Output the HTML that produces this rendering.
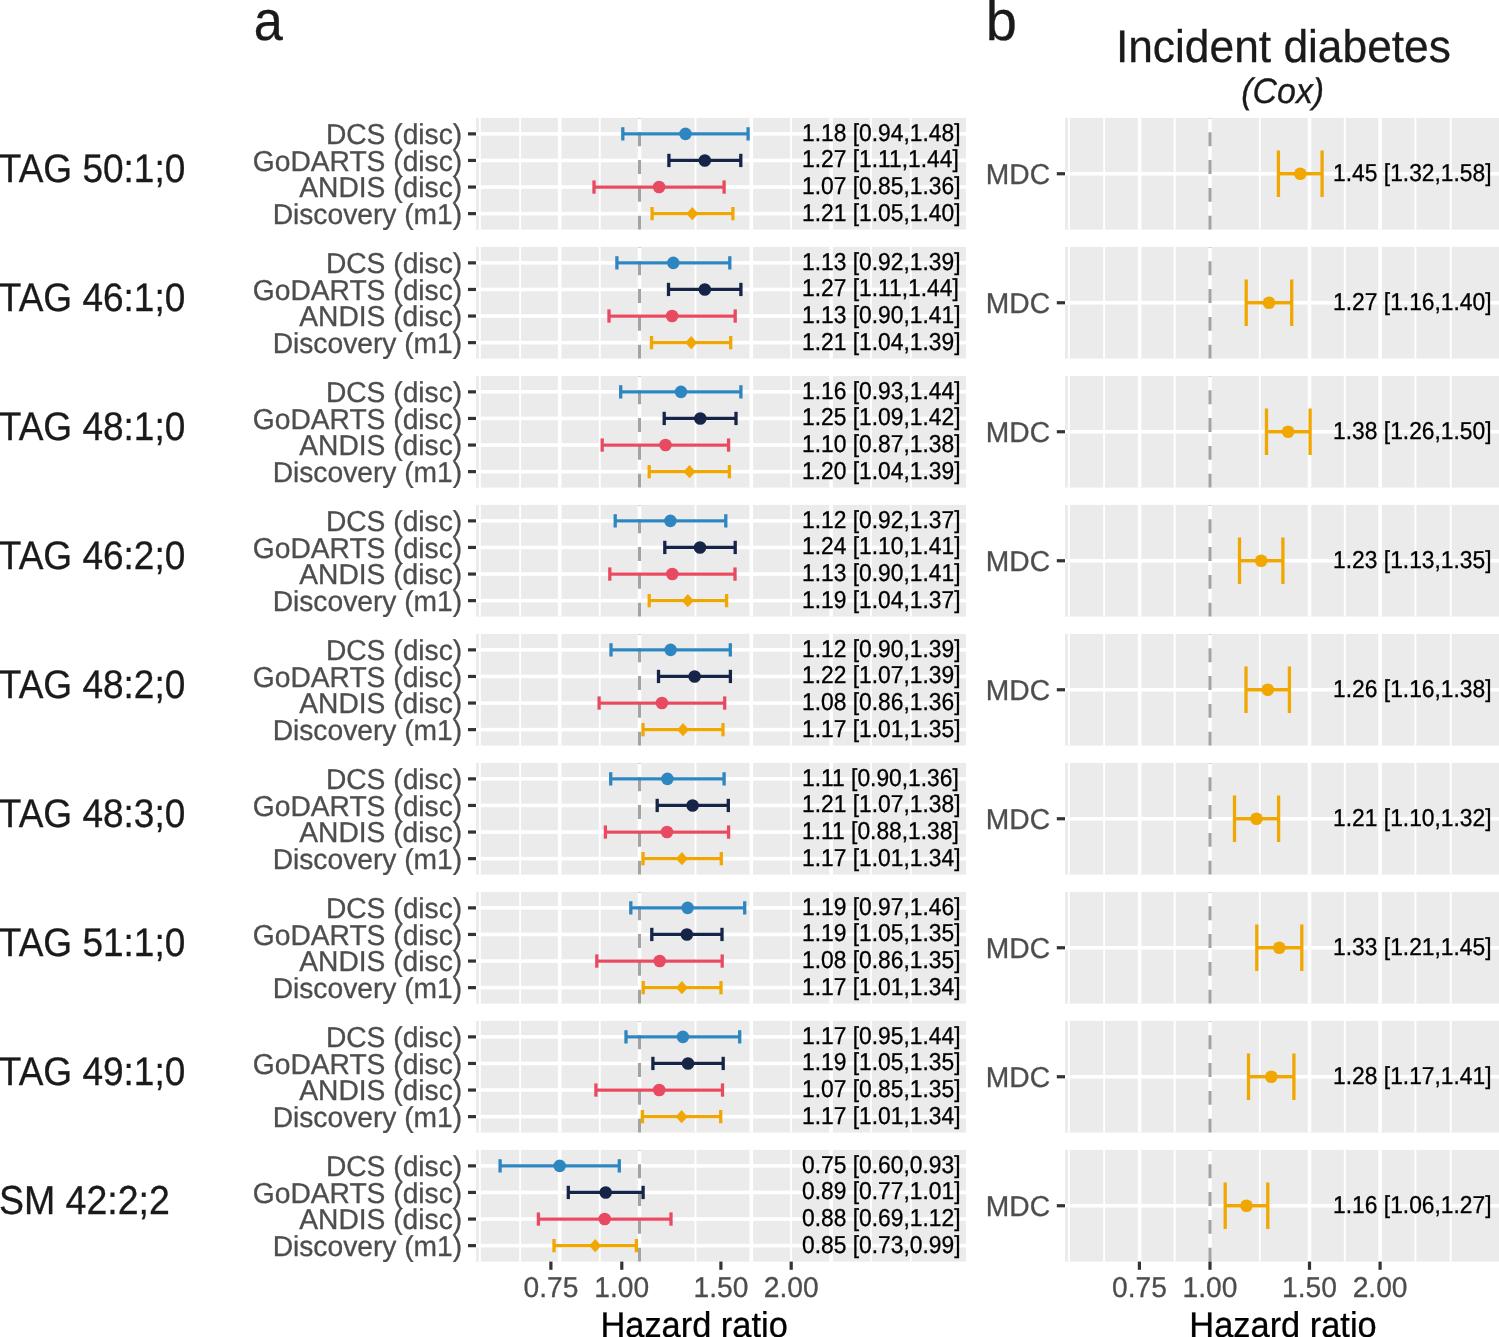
<!DOCTYPE html>
<html><head><meta charset="utf-8"><title>Forest plot</title>
<style>html,body{margin:0;padding:0;background:#fff;} body{width:1499px;height:1337px;overflow:hidden;} svg text{font-family:"Liberation Sans", sans-serif;text-rendering:geometricPrecision;} #wrap{will-change:transform;}</style>
</head><body><div id="wrap">
<svg width="1499" height="1337" viewBox="0 0 1499 1337" style="display:block">
<rect width="1499" height="1337" fill="#FFFFFF"/>
<rect x="476.0" y="117.90" width="490.0" height="111.7" fill="#EBEBEB"/>
<rect x="478.95" y="117.90" width="1.9" height="111.7" fill="#FFFFFF"/>
<rect x="519.15" y="117.90" width="1.9" height="111.7" fill="#FFFFFF"/>
<rect x="598.85" y="117.90" width="1.9" height="111.7" fill="#FFFFFF"/>
<rect x="694.55" y="117.90" width="1.9" height="111.7" fill="#FFFFFF"/>
<rect x="790.15" y="117.90" width="1.9" height="111.7" fill="#FFFFFF"/>
<rect x="869.95" y="117.90" width="1.9" height="111.7" fill="#FFFFFF"/>
<rect x="909.85" y="117.90" width="1.9" height="111.7" fill="#FFFFFF"/>
<rect x="557.90" y="117.90" width="3.6" height="111.7" fill="#FFFFFF"/>
<rect x="637.70" y="117.90" width="3.6" height="111.7" fill="#FFFFFF"/>
<rect x="749.50" y="117.90" width="3.6" height="111.7" fill="#FFFFFF"/>
<rect x="829.30" y="117.90" width="3.6" height="111.7" fill="#FFFFFF"/>
<rect x="476.0" y="132.06" width="490.0" height="3.6" fill="#FFFFFF"/>
<rect x="476.0" y="158.65" width="490.0" height="3.6" fill="#FFFFFF"/>
<rect x="476.0" y="185.25" width="490.0" height="3.6" fill="#FFFFFF"/>
<rect x="476.0" y="211.84" width="490.0" height="3.6" fill="#FFFFFF"/>
<line x1="639.5" y1="229.60" x2="639.5" y2="117.90" stroke="#A3A3A3" stroke-width="3.1" stroke-dasharray="13.9 13.9"/>
<rect x="1065.0" y="117.90" width="435.0" height="111.7" fill="#EBEBEB"/>
<rect x="1067.95" y="117.90" width="1.9" height="111.7" fill="#FFFFFF"/>
<rect x="1103.15" y="117.90" width="1.9" height="111.7" fill="#FFFFFF"/>
<rect x="1173.75" y="117.90" width="1.9" height="111.7" fill="#FFFFFF"/>
<rect x="1258.85" y="117.90" width="1.9" height="111.7" fill="#FFFFFF"/>
<rect x="1343.85" y="117.90" width="1.9" height="111.7" fill="#FFFFFF"/>
<rect x="1414.45" y="117.90" width="1.9" height="111.7" fill="#FFFFFF"/>
<rect x="1449.75" y="117.90" width="1.9" height="111.7" fill="#FFFFFF"/>
<rect x="1137.80" y="117.90" width="3.6" height="111.7" fill="#FFFFFF"/>
<rect x="1208.20" y="117.90" width="3.6" height="111.7" fill="#FFFFFF"/>
<rect x="1307.70" y="117.90" width="3.6" height="111.7" fill="#FFFFFF"/>
<rect x="1378.30" y="117.90" width="3.6" height="111.7" fill="#FFFFFF"/>
<rect x="1065.0" y="171.95" width="435.0" height="3.6" fill="#FFFFFF"/>
<line x1="1210.0" y1="229.60" x2="1210.0" y2="117.90" stroke="#A3A3A3" stroke-width="3.1" stroke-dasharray="13.9 13.9"/>
<line x1="622.80" y1="133.86" x2="748.10" y2="133.86" stroke="#2E86C1" stroke-width="3.3"/>
<line x1="622.80" y1="127.21" x2="622.80" y2="140.51" stroke="#2E86C1" stroke-width="3.3"/>
<line x1="748.10" y1="127.21" x2="748.10" y2="140.51" stroke="#2E86C1" stroke-width="3.3"/>
<circle cx="685.50" cy="133.86" r="6.3" fill="#2E86C1"/>
<text transform="translate(802.06,140.76) scale(1.0,1.076)" font-size="22.8" fill="#000" stroke="#000" stroke-width="0.3">1.18 [0.94,1.48]</text>
<text transform="translate(462.15,144.26) scale(1.0,1.02)" font-size="28.2" fill="#4D4D4D" stroke="#4D4D4D" stroke-width="0.3" text-anchor="end">DCS (disc)</text>
<line x1="468.0" y1="133.86" x2="476.0" y2="133.86" stroke="#333333" stroke-width="3.2"/>
<line x1="668.90" y1="160.45" x2="740.80" y2="160.45" stroke="#162448" stroke-width="3.3"/>
<line x1="668.90" y1="153.80" x2="668.90" y2="167.10" stroke="#162448" stroke-width="3.3"/>
<line x1="740.80" y1="153.80" x2="740.80" y2="167.10" stroke="#162448" stroke-width="3.3"/>
<circle cx="704.80" cy="160.45" r="6.3" fill="#162448"/>
<text transform="translate(802.06,167.35) scale(1.0,1.076)" font-size="22.8" fill="#000" stroke="#000" stroke-width="0.3">1.27 [1.11,1.44]</text>
<text transform="translate(462.15,170.85) scale(1.0,1.02)" font-size="28.2" fill="#4D4D4D" stroke="#4D4D4D" stroke-width="0.3" text-anchor="end">GoDARTS (disc)</text>
<line x1="468.0" y1="160.45" x2="476.0" y2="160.45" stroke="#333333" stroke-width="3.2"/>
<line x1="594.00" y1="187.05" x2="724.10" y2="187.05" stroke="#E84B61" stroke-width="3.3"/>
<line x1="594.00" y1="180.40" x2="594.00" y2="193.70" stroke="#E84B61" stroke-width="3.3"/>
<line x1="724.10" y1="180.40" x2="724.10" y2="193.70" stroke="#E84B61" stroke-width="3.3"/>
<circle cx="659.10" cy="187.05" r="6.3" fill="#E84B61"/>
<text transform="translate(802.06,193.95) scale(1.0,1.076)" font-size="22.8" fill="#000" stroke="#000" stroke-width="0.3">1.07 [0.85,1.36]</text>
<text transform="translate(462.15,197.45) scale(1.0,1.02)" font-size="28.2" fill="#4D4D4D" stroke="#4D4D4D" stroke-width="0.3" text-anchor="end">ANDIS (disc)</text>
<line x1="468.0" y1="187.05" x2="476.0" y2="187.05" stroke="#333333" stroke-width="3.2"/>
<line x1="652.10" y1="213.64" x2="732.90" y2="213.64" stroke="#F1A702" stroke-width="3.3"/>
<line x1="652.10" y1="206.99" x2="652.10" y2="220.29" stroke="#F1A702" stroke-width="3.3"/>
<line x1="732.90" y1="206.99" x2="732.90" y2="220.29" stroke="#F1A702" stroke-width="3.3"/>
<path d="M692.30 207.04L698.30 213.64L692.30 220.24L686.30 213.64Z" fill="#F1A702"/>
<text transform="translate(802.06,220.54) scale(1.0,1.076)" font-size="22.8" fill="#000" stroke="#000" stroke-width="0.3">1.21 [1.05,1.40]</text>
<text transform="translate(462.15,224.04) scale(1.0,1.02)" font-size="28.2" fill="#4D4D4D" stroke="#4D4D4D" stroke-width="0.3" text-anchor="end">Discovery (m1)</text>
<line x1="468.0" y1="213.64" x2="476.0" y2="213.64" stroke="#333333" stroke-width="3.2"/>
<line x1="1278.40" y1="173.75" x2="1322.10" y2="173.75" stroke="#F1A702" stroke-width="3.3"/>
<line x1="1278.40" y1="150.48" x2="1278.40" y2="197.02" stroke="#F1A702" stroke-width="3.3"/>
<line x1="1322.10" y1="150.48" x2="1322.10" y2="197.02" stroke="#F1A702" stroke-width="3.3"/>
<circle cx="1300.30" cy="173.75" r="6.3" fill="#F1A702"/>
<text transform="translate(1333.10,180.65) scale(1.0,1.076)" font-size="22.8" fill="#000" stroke="#000" stroke-width="0.3">1.45 [1.32,1.58]</text>
<text transform="translate(1050.00,184.15) scale(1.0,1.02)" font-size="28.2" fill="#4D4D4D" stroke="#4D4D4D" stroke-width="0.3" text-anchor="end">MDC</text>
<line x1="1056.8" y1="173.75" x2="1065.0" y2="173.75" stroke="#333333" stroke-width="3.2"/>
<text transform="translate(-1.20,181.50) scale(1.0,1.078)" font-size="37.0" fill="#1A1A1A" stroke="#1A1A1A" stroke-width="0.3">TAG 50:1;0</text>
<rect x="476.0" y="246.90" width="490.0" height="111.7" fill="#EBEBEB"/>
<rect x="478.95" y="246.90" width="1.9" height="111.7" fill="#FFFFFF"/>
<rect x="519.15" y="246.90" width="1.9" height="111.7" fill="#FFFFFF"/>
<rect x="598.85" y="246.90" width="1.9" height="111.7" fill="#FFFFFF"/>
<rect x="694.55" y="246.90" width="1.9" height="111.7" fill="#FFFFFF"/>
<rect x="790.15" y="246.90" width="1.9" height="111.7" fill="#FFFFFF"/>
<rect x="869.95" y="246.90" width="1.9" height="111.7" fill="#FFFFFF"/>
<rect x="909.85" y="246.90" width="1.9" height="111.7" fill="#FFFFFF"/>
<rect x="557.90" y="246.90" width="3.6" height="111.7" fill="#FFFFFF"/>
<rect x="637.70" y="246.90" width="3.6" height="111.7" fill="#FFFFFF"/>
<rect x="749.50" y="246.90" width="3.6" height="111.7" fill="#FFFFFF"/>
<rect x="829.30" y="246.90" width="3.6" height="111.7" fill="#FFFFFF"/>
<rect x="476.0" y="261.06" width="490.0" height="3.6" fill="#FFFFFF"/>
<rect x="476.0" y="287.65" width="490.0" height="3.6" fill="#FFFFFF"/>
<rect x="476.0" y="314.25" width="490.0" height="3.6" fill="#FFFFFF"/>
<rect x="476.0" y="340.84" width="490.0" height="3.6" fill="#FFFFFF"/>
<line x1="639.5" y1="358.60" x2="639.5" y2="246.90" stroke="#A3A3A3" stroke-width="3.1" stroke-dasharray="13.9 13.9"/>
<rect x="1065.0" y="246.90" width="435.0" height="111.7" fill="#EBEBEB"/>
<rect x="1067.95" y="246.90" width="1.9" height="111.7" fill="#FFFFFF"/>
<rect x="1103.15" y="246.90" width="1.9" height="111.7" fill="#FFFFFF"/>
<rect x="1173.75" y="246.90" width="1.9" height="111.7" fill="#FFFFFF"/>
<rect x="1258.85" y="246.90" width="1.9" height="111.7" fill="#FFFFFF"/>
<rect x="1343.85" y="246.90" width="1.9" height="111.7" fill="#FFFFFF"/>
<rect x="1414.45" y="246.90" width="1.9" height="111.7" fill="#FFFFFF"/>
<rect x="1449.75" y="246.90" width="1.9" height="111.7" fill="#FFFFFF"/>
<rect x="1137.80" y="246.90" width="3.6" height="111.7" fill="#FFFFFF"/>
<rect x="1208.20" y="246.90" width="3.6" height="111.7" fill="#FFFFFF"/>
<rect x="1307.70" y="246.90" width="3.6" height="111.7" fill="#FFFFFF"/>
<rect x="1378.30" y="246.90" width="3.6" height="111.7" fill="#FFFFFF"/>
<rect x="1065.0" y="300.95" width="435.0" height="3.6" fill="#FFFFFF"/>
<line x1="1210.0" y1="358.60" x2="1210.0" y2="246.90" stroke="#A3A3A3" stroke-width="3.1" stroke-dasharray="13.9 13.9"/>
<line x1="616.90" y1="262.86" x2="729.80" y2="262.86" stroke="#2E86C1" stroke-width="3.3"/>
<line x1="616.90" y1="256.21" x2="616.90" y2="269.51" stroke="#2E86C1" stroke-width="3.3"/>
<line x1="729.80" y1="256.21" x2="729.80" y2="269.51" stroke="#2E86C1" stroke-width="3.3"/>
<circle cx="673.30" cy="262.86" r="6.3" fill="#2E86C1"/>
<text transform="translate(802.06,269.76) scale(1.0,1.076)" font-size="22.8" fill="#000" stroke="#000" stroke-width="0.3">1.13 [0.92,1.39]</text>
<text transform="translate(462.15,273.26) scale(1.0,1.02)" font-size="28.2" fill="#4D4D4D" stroke="#4D4D4D" stroke-width="0.3" text-anchor="end">DCS (disc)</text>
<line x1="468.0" y1="262.86" x2="476.0" y2="262.86" stroke="#333333" stroke-width="3.2"/>
<line x1="668.50" y1="289.45" x2="740.90" y2="289.45" stroke="#162448" stroke-width="3.3"/>
<line x1="668.50" y1="282.80" x2="668.50" y2="296.10" stroke="#162448" stroke-width="3.3"/>
<line x1="740.90" y1="282.80" x2="740.90" y2="296.10" stroke="#162448" stroke-width="3.3"/>
<circle cx="704.80" cy="289.45" r="6.3" fill="#162448"/>
<text transform="translate(802.06,296.35) scale(1.0,1.076)" font-size="22.8" fill="#000" stroke="#000" stroke-width="0.3">1.27 [1.11,1.44]</text>
<text transform="translate(462.15,299.85) scale(1.0,1.02)" font-size="28.2" fill="#4D4D4D" stroke="#4D4D4D" stroke-width="0.3" text-anchor="end">GoDARTS (disc)</text>
<line x1="468.0" y1="289.45" x2="476.0" y2="289.45" stroke="#333333" stroke-width="3.2"/>
<line x1="609.00" y1="316.05" x2="735.20" y2="316.05" stroke="#E84B61" stroke-width="3.3"/>
<line x1="609.00" y1="309.40" x2="609.00" y2="322.70" stroke="#E84B61" stroke-width="3.3"/>
<line x1="735.20" y1="309.40" x2="735.20" y2="322.70" stroke="#E84B61" stroke-width="3.3"/>
<circle cx="672.10" cy="316.05" r="6.3" fill="#E84B61"/>
<text transform="translate(802.06,322.95) scale(1.0,1.076)" font-size="22.8" fill="#000" stroke="#000" stroke-width="0.3">1.13 [0.90,1.41]</text>
<text transform="translate(462.15,326.45) scale(1.0,1.02)" font-size="28.2" fill="#4D4D4D" stroke="#4D4D4D" stroke-width="0.3" text-anchor="end">ANDIS (disc)</text>
<line x1="468.0" y1="316.05" x2="476.0" y2="316.05" stroke="#333333" stroke-width="3.2"/>
<line x1="651.50" y1="342.64" x2="730.70" y2="342.64" stroke="#F1A702" stroke-width="3.3"/>
<line x1="651.50" y1="335.99" x2="651.50" y2="349.29" stroke="#F1A702" stroke-width="3.3"/>
<line x1="730.70" y1="335.99" x2="730.70" y2="349.29" stroke="#F1A702" stroke-width="3.3"/>
<path d="M691.20 336.04L697.20 342.64L691.20 349.24L685.20 342.64Z" fill="#F1A702"/>
<text transform="translate(802.06,349.54) scale(1.0,1.076)" font-size="22.8" fill="#000" stroke="#000" stroke-width="0.3">1.21 [1.04,1.39]</text>
<text transform="translate(462.15,353.04) scale(1.0,1.02)" font-size="28.2" fill="#4D4D4D" stroke="#4D4D4D" stroke-width="0.3" text-anchor="end">Discovery (m1)</text>
<line x1="468.0" y1="342.64" x2="476.0" y2="342.64" stroke="#333333" stroke-width="3.2"/>
<line x1="1246.20" y1="302.75" x2="1291.70" y2="302.75" stroke="#F1A702" stroke-width="3.3"/>
<line x1="1246.20" y1="279.48" x2="1246.20" y2="326.02" stroke="#F1A702" stroke-width="3.3"/>
<line x1="1291.70" y1="279.48" x2="1291.70" y2="326.02" stroke="#F1A702" stroke-width="3.3"/>
<circle cx="1269.00" cy="302.75" r="6.3" fill="#F1A702"/>
<text transform="translate(1333.10,309.65) scale(1.0,1.076)" font-size="22.8" fill="#000" stroke="#000" stroke-width="0.3">1.27 [1.16,1.40]</text>
<text transform="translate(1050.00,313.15) scale(1.0,1.02)" font-size="28.2" fill="#4D4D4D" stroke="#4D4D4D" stroke-width="0.3" text-anchor="end">MDC</text>
<line x1="1056.8" y1="302.75" x2="1065.0" y2="302.75" stroke="#333333" stroke-width="3.2"/>
<text transform="translate(-1.20,310.50) scale(1.0,1.078)" font-size="37.0" fill="#1A1A1A" stroke="#1A1A1A" stroke-width="0.3">TAG 46:1;0</text>
<rect x="476.0" y="375.90" width="490.0" height="111.7" fill="#EBEBEB"/>
<rect x="478.95" y="375.90" width="1.9" height="111.7" fill="#FFFFFF"/>
<rect x="519.15" y="375.90" width="1.9" height="111.7" fill="#FFFFFF"/>
<rect x="598.85" y="375.90" width="1.9" height="111.7" fill="#FFFFFF"/>
<rect x="694.55" y="375.90" width="1.9" height="111.7" fill="#FFFFFF"/>
<rect x="790.15" y="375.90" width="1.9" height="111.7" fill="#FFFFFF"/>
<rect x="869.95" y="375.90" width="1.9" height="111.7" fill="#FFFFFF"/>
<rect x="909.85" y="375.90" width="1.9" height="111.7" fill="#FFFFFF"/>
<rect x="557.90" y="375.90" width="3.6" height="111.7" fill="#FFFFFF"/>
<rect x="637.70" y="375.90" width="3.6" height="111.7" fill="#FFFFFF"/>
<rect x="749.50" y="375.90" width="3.6" height="111.7" fill="#FFFFFF"/>
<rect x="829.30" y="375.90" width="3.6" height="111.7" fill="#FFFFFF"/>
<rect x="476.0" y="390.06" width="490.0" height="3.6" fill="#FFFFFF"/>
<rect x="476.0" y="416.65" width="490.0" height="3.6" fill="#FFFFFF"/>
<rect x="476.0" y="443.25" width="490.0" height="3.6" fill="#FFFFFF"/>
<rect x="476.0" y="469.84" width="490.0" height="3.6" fill="#FFFFFF"/>
<line x1="639.5" y1="487.60" x2="639.5" y2="375.90" stroke="#A3A3A3" stroke-width="3.1" stroke-dasharray="13.9 13.9"/>
<rect x="1065.0" y="375.90" width="435.0" height="111.7" fill="#EBEBEB"/>
<rect x="1067.95" y="375.90" width="1.9" height="111.7" fill="#FFFFFF"/>
<rect x="1103.15" y="375.90" width="1.9" height="111.7" fill="#FFFFFF"/>
<rect x="1173.75" y="375.90" width="1.9" height="111.7" fill="#FFFFFF"/>
<rect x="1258.85" y="375.90" width="1.9" height="111.7" fill="#FFFFFF"/>
<rect x="1343.85" y="375.90" width="1.9" height="111.7" fill="#FFFFFF"/>
<rect x="1414.45" y="375.90" width="1.9" height="111.7" fill="#FFFFFF"/>
<rect x="1449.75" y="375.90" width="1.9" height="111.7" fill="#FFFFFF"/>
<rect x="1137.80" y="375.90" width="3.6" height="111.7" fill="#FFFFFF"/>
<rect x="1208.20" y="375.90" width="3.6" height="111.7" fill="#FFFFFF"/>
<rect x="1307.70" y="375.90" width="3.6" height="111.7" fill="#FFFFFF"/>
<rect x="1378.30" y="375.90" width="3.6" height="111.7" fill="#FFFFFF"/>
<rect x="1065.0" y="429.95" width="435.0" height="3.6" fill="#FFFFFF"/>
<line x1="1210.0" y1="487.60" x2="1210.0" y2="375.90" stroke="#A3A3A3" stroke-width="3.1" stroke-dasharray="13.9 13.9"/>
<line x1="620.70" y1="391.86" x2="740.90" y2="391.86" stroke="#2E86C1" stroke-width="3.3"/>
<line x1="620.70" y1="385.21" x2="620.70" y2="398.51" stroke="#2E86C1" stroke-width="3.3"/>
<line x1="740.90" y1="385.21" x2="740.90" y2="398.51" stroke="#2E86C1" stroke-width="3.3"/>
<circle cx="681.00" cy="391.86" r="6.3" fill="#2E86C1"/>
<text transform="translate(802.06,398.76) scale(1.0,1.076)" font-size="22.8" fill="#000" stroke="#000" stroke-width="0.3">1.16 [0.93,1.44]</text>
<text transform="translate(462.15,402.26) scale(1.0,1.02)" font-size="28.2" fill="#4D4D4D" stroke="#4D4D4D" stroke-width="0.3" text-anchor="end">DCS (disc)</text>
<line x1="468.0" y1="391.86" x2="476.0" y2="391.86" stroke="#333333" stroke-width="3.2"/>
<line x1="664.20" y1="418.45" x2="736.00" y2="418.45" stroke="#162448" stroke-width="3.3"/>
<line x1="664.20" y1="411.80" x2="664.20" y2="425.10" stroke="#162448" stroke-width="3.3"/>
<line x1="736.00" y1="411.80" x2="736.00" y2="425.10" stroke="#162448" stroke-width="3.3"/>
<circle cx="700.30" cy="418.45" r="6.3" fill="#162448"/>
<text transform="translate(802.06,425.35) scale(1.0,1.076)" font-size="22.8" fill="#000" stroke="#000" stroke-width="0.3">1.25 [1.09,1.42]</text>
<text transform="translate(462.15,428.85) scale(1.0,1.02)" font-size="28.2" fill="#4D4D4D" stroke="#4D4D4D" stroke-width="0.3" text-anchor="end">GoDARTS (disc)</text>
<line x1="468.0" y1="418.45" x2="476.0" y2="418.45" stroke="#333333" stroke-width="3.2"/>
<line x1="602.20" y1="445.05" x2="728.60" y2="445.05" stroke="#E84B61" stroke-width="3.3"/>
<line x1="602.20" y1="438.40" x2="602.20" y2="451.70" stroke="#E84B61" stroke-width="3.3"/>
<line x1="728.60" y1="438.40" x2="728.60" y2="451.70" stroke="#E84B61" stroke-width="3.3"/>
<circle cx="665.50" cy="445.05" r="6.3" fill="#E84B61"/>
<text transform="translate(802.06,451.95) scale(1.0,1.076)" font-size="22.8" fill="#000" stroke="#000" stroke-width="0.3">1.10 [0.87,1.38]</text>
<text transform="translate(462.15,455.45) scale(1.0,1.02)" font-size="28.2" fill="#4D4D4D" stroke="#4D4D4D" stroke-width="0.3" text-anchor="end">ANDIS (disc)</text>
<line x1="468.0" y1="445.05" x2="476.0" y2="445.05" stroke="#333333" stroke-width="3.2"/>
<line x1="649.20" y1="471.64" x2="729.40" y2="471.64" stroke="#F1A702" stroke-width="3.3"/>
<line x1="649.20" y1="464.99" x2="649.20" y2="478.29" stroke="#F1A702" stroke-width="3.3"/>
<line x1="729.40" y1="464.99" x2="729.40" y2="478.29" stroke="#F1A702" stroke-width="3.3"/>
<path d="M689.50 465.04L695.50 471.64L689.50 478.24L683.50 471.64Z" fill="#F1A702"/>
<text transform="translate(802.06,478.54) scale(1.0,1.076)" font-size="22.8" fill="#000" stroke="#000" stroke-width="0.3">1.20 [1.04,1.39]</text>
<text transform="translate(462.15,482.04) scale(1.0,1.02)" font-size="28.2" fill="#4D4D4D" stroke="#4D4D4D" stroke-width="0.3" text-anchor="end">Discovery (m1)</text>
<line x1="468.0" y1="471.64" x2="476.0" y2="471.64" stroke="#333333" stroke-width="3.2"/>
<line x1="1266.50" y1="431.75" x2="1310.10" y2="431.75" stroke="#F1A702" stroke-width="3.3"/>
<line x1="1266.50" y1="408.48" x2="1266.50" y2="455.02" stroke="#F1A702" stroke-width="3.3"/>
<line x1="1310.10" y1="408.48" x2="1310.10" y2="455.02" stroke="#F1A702" stroke-width="3.3"/>
<circle cx="1288.10" cy="431.75" r="6.3" fill="#F1A702"/>
<text transform="translate(1333.10,438.65) scale(1.0,1.076)" font-size="22.8" fill="#000" stroke="#000" stroke-width="0.3">1.38 [1.26,1.50]</text>
<text transform="translate(1050.00,442.15) scale(1.0,1.02)" font-size="28.2" fill="#4D4D4D" stroke="#4D4D4D" stroke-width="0.3" text-anchor="end">MDC</text>
<line x1="1056.8" y1="431.75" x2="1065.0" y2="431.75" stroke="#333333" stroke-width="3.2"/>
<text transform="translate(-1.20,439.50) scale(1.0,1.078)" font-size="37.0" fill="#1A1A1A" stroke="#1A1A1A" stroke-width="0.3">TAG 48:1;0</text>
<rect x="476.0" y="504.90" width="490.0" height="111.7" fill="#EBEBEB"/>
<rect x="478.95" y="504.90" width="1.9" height="111.7" fill="#FFFFFF"/>
<rect x="519.15" y="504.90" width="1.9" height="111.7" fill="#FFFFFF"/>
<rect x="598.85" y="504.90" width="1.9" height="111.7" fill="#FFFFFF"/>
<rect x="694.55" y="504.90" width="1.9" height="111.7" fill="#FFFFFF"/>
<rect x="790.15" y="504.90" width="1.9" height="111.7" fill="#FFFFFF"/>
<rect x="869.95" y="504.90" width="1.9" height="111.7" fill="#FFFFFF"/>
<rect x="909.85" y="504.90" width="1.9" height="111.7" fill="#FFFFFF"/>
<rect x="557.90" y="504.90" width="3.6" height="111.7" fill="#FFFFFF"/>
<rect x="637.70" y="504.90" width="3.6" height="111.7" fill="#FFFFFF"/>
<rect x="749.50" y="504.90" width="3.6" height="111.7" fill="#FFFFFF"/>
<rect x="829.30" y="504.90" width="3.6" height="111.7" fill="#FFFFFF"/>
<rect x="476.0" y="519.06" width="490.0" height="3.6" fill="#FFFFFF"/>
<rect x="476.0" y="545.65" width="490.0" height="3.6" fill="#FFFFFF"/>
<rect x="476.0" y="572.25" width="490.0" height="3.6" fill="#FFFFFF"/>
<rect x="476.0" y="598.84" width="490.0" height="3.6" fill="#FFFFFF"/>
<line x1="639.5" y1="616.60" x2="639.5" y2="504.90" stroke="#A3A3A3" stroke-width="3.1" stroke-dasharray="13.9 13.9"/>
<rect x="1065.0" y="504.90" width="435.0" height="111.7" fill="#EBEBEB"/>
<rect x="1067.95" y="504.90" width="1.9" height="111.7" fill="#FFFFFF"/>
<rect x="1103.15" y="504.90" width="1.9" height="111.7" fill="#FFFFFF"/>
<rect x="1173.75" y="504.90" width="1.9" height="111.7" fill="#FFFFFF"/>
<rect x="1258.85" y="504.90" width="1.9" height="111.7" fill="#FFFFFF"/>
<rect x="1343.85" y="504.90" width="1.9" height="111.7" fill="#FFFFFF"/>
<rect x="1414.45" y="504.90" width="1.9" height="111.7" fill="#FFFFFF"/>
<rect x="1449.75" y="504.90" width="1.9" height="111.7" fill="#FFFFFF"/>
<rect x="1137.80" y="504.90" width="3.6" height="111.7" fill="#FFFFFF"/>
<rect x="1208.20" y="504.90" width="3.6" height="111.7" fill="#FFFFFF"/>
<rect x="1307.70" y="504.90" width="3.6" height="111.7" fill="#FFFFFF"/>
<rect x="1378.30" y="504.90" width="3.6" height="111.7" fill="#FFFFFF"/>
<rect x="1065.0" y="558.95" width="435.0" height="3.6" fill="#FFFFFF"/>
<line x1="1210.0" y1="616.60" x2="1210.0" y2="504.90" stroke="#A3A3A3" stroke-width="3.1" stroke-dasharray="13.9 13.9"/>
<line x1="615.20" y1="520.86" x2="725.80" y2="520.86" stroke="#2E86C1" stroke-width="3.3"/>
<line x1="615.20" y1="514.21" x2="615.20" y2="527.51" stroke="#2E86C1" stroke-width="3.3"/>
<line x1="725.80" y1="514.21" x2="725.80" y2="527.51" stroke="#2E86C1" stroke-width="3.3"/>
<circle cx="670.40" cy="520.86" r="6.3" fill="#2E86C1"/>
<text transform="translate(802.06,527.76) scale(1.0,1.076)" font-size="22.8" fill="#000" stroke="#000" stroke-width="0.3">1.12 [0.92,1.37]</text>
<text transform="translate(462.15,531.26) scale(1.0,1.02)" font-size="28.2" fill="#4D4D4D" stroke="#4D4D4D" stroke-width="0.3" text-anchor="end">DCS (disc)</text>
<line x1="468.0" y1="520.86" x2="476.0" y2="520.86" stroke="#333333" stroke-width="3.2"/>
<line x1="664.80" y1="547.45" x2="735.20" y2="547.45" stroke="#162448" stroke-width="3.3"/>
<line x1="664.80" y1="540.80" x2="664.80" y2="554.10" stroke="#162448" stroke-width="3.3"/>
<line x1="735.20" y1="540.80" x2="735.20" y2="554.10" stroke="#162448" stroke-width="3.3"/>
<circle cx="700.00" cy="547.45" r="6.3" fill="#162448"/>
<text transform="translate(802.06,554.35) scale(1.0,1.076)" font-size="22.8" fill="#000" stroke="#000" stroke-width="0.3">1.24 [1.10,1.41]</text>
<text transform="translate(462.15,557.85) scale(1.0,1.02)" font-size="28.2" fill="#4D4D4D" stroke="#4D4D4D" stroke-width="0.3" text-anchor="end">GoDARTS (disc)</text>
<line x1="468.0" y1="547.45" x2="476.0" y2="547.45" stroke="#333333" stroke-width="3.2"/>
<line x1="609.80" y1="574.05" x2="735.00" y2="574.05" stroke="#E84B61" stroke-width="3.3"/>
<line x1="609.80" y1="567.40" x2="609.80" y2="580.70" stroke="#E84B61" stroke-width="3.3"/>
<line x1="735.00" y1="567.40" x2="735.00" y2="580.70" stroke="#E84B61" stroke-width="3.3"/>
<circle cx="672.30" cy="574.05" r="6.3" fill="#E84B61"/>
<text transform="translate(802.06,580.95) scale(1.0,1.076)" font-size="22.8" fill="#000" stroke="#000" stroke-width="0.3">1.13 [0.90,1.41]</text>
<text transform="translate(462.15,584.45) scale(1.0,1.02)" font-size="28.2" fill="#4D4D4D" stroke="#4D4D4D" stroke-width="0.3" text-anchor="end">ANDIS (disc)</text>
<line x1="468.0" y1="574.05" x2="476.0" y2="574.05" stroke="#333333" stroke-width="3.2"/>
<line x1="649.20" y1="600.64" x2="726.60" y2="600.64" stroke="#F1A702" stroke-width="3.3"/>
<line x1="649.20" y1="593.99" x2="649.20" y2="607.29" stroke="#F1A702" stroke-width="3.3"/>
<line x1="726.60" y1="593.99" x2="726.60" y2="607.29" stroke="#F1A702" stroke-width="3.3"/>
<path d="M687.80 594.04L693.80 600.64L687.80 607.24L681.80 600.64Z" fill="#F1A702"/>
<text transform="translate(802.06,607.54) scale(1.0,1.076)" font-size="22.8" fill="#000" stroke="#000" stroke-width="0.3">1.19 [1.04,1.37]</text>
<text transform="translate(462.15,611.04) scale(1.0,1.02)" font-size="28.2" fill="#4D4D4D" stroke="#4D4D4D" stroke-width="0.3" text-anchor="end">Discovery (m1)</text>
<line x1="468.0" y1="600.64" x2="476.0" y2="600.64" stroke="#333333" stroke-width="3.2"/>
<line x1="1239.50" y1="560.75" x2="1282.90" y2="560.75" stroke="#F1A702" stroke-width="3.3"/>
<line x1="1239.50" y1="537.48" x2="1239.50" y2="584.02" stroke="#F1A702" stroke-width="3.3"/>
<line x1="1282.90" y1="537.48" x2="1282.90" y2="584.02" stroke="#F1A702" stroke-width="3.3"/>
<circle cx="1261.20" cy="560.75" r="6.3" fill="#F1A702"/>
<text transform="translate(1333.10,567.65) scale(1.0,1.076)" font-size="22.8" fill="#000" stroke="#000" stroke-width="0.3">1.23 [1.13,1.35]</text>
<text transform="translate(1050.00,571.15) scale(1.0,1.02)" font-size="28.2" fill="#4D4D4D" stroke="#4D4D4D" stroke-width="0.3" text-anchor="end">MDC</text>
<line x1="1056.8" y1="560.75" x2="1065.0" y2="560.75" stroke="#333333" stroke-width="3.2"/>
<text transform="translate(-1.20,568.50) scale(1.0,1.078)" font-size="37.0" fill="#1A1A1A" stroke="#1A1A1A" stroke-width="0.3">TAG 46:2;0</text>
<rect x="476.0" y="633.90" width="490.0" height="111.7" fill="#EBEBEB"/>
<rect x="478.95" y="633.90" width="1.9" height="111.7" fill="#FFFFFF"/>
<rect x="519.15" y="633.90" width="1.9" height="111.7" fill="#FFFFFF"/>
<rect x="598.85" y="633.90" width="1.9" height="111.7" fill="#FFFFFF"/>
<rect x="694.55" y="633.90" width="1.9" height="111.7" fill="#FFFFFF"/>
<rect x="790.15" y="633.90" width="1.9" height="111.7" fill="#FFFFFF"/>
<rect x="869.95" y="633.90" width="1.9" height="111.7" fill="#FFFFFF"/>
<rect x="909.85" y="633.90" width="1.9" height="111.7" fill="#FFFFFF"/>
<rect x="557.90" y="633.90" width="3.6" height="111.7" fill="#FFFFFF"/>
<rect x="637.70" y="633.90" width="3.6" height="111.7" fill="#FFFFFF"/>
<rect x="749.50" y="633.90" width="3.6" height="111.7" fill="#FFFFFF"/>
<rect x="829.30" y="633.90" width="3.6" height="111.7" fill="#FFFFFF"/>
<rect x="476.0" y="648.06" width="490.0" height="3.6" fill="#FFFFFF"/>
<rect x="476.0" y="674.65" width="490.0" height="3.6" fill="#FFFFFF"/>
<rect x="476.0" y="701.25" width="490.0" height="3.6" fill="#FFFFFF"/>
<rect x="476.0" y="727.84" width="490.0" height="3.6" fill="#FFFFFF"/>
<line x1="639.5" y1="745.60" x2="639.5" y2="633.90" stroke="#A3A3A3" stroke-width="3.1" stroke-dasharray="13.9 13.9"/>
<rect x="1065.0" y="633.90" width="435.0" height="111.7" fill="#EBEBEB"/>
<rect x="1067.95" y="633.90" width="1.9" height="111.7" fill="#FFFFFF"/>
<rect x="1103.15" y="633.90" width="1.9" height="111.7" fill="#FFFFFF"/>
<rect x="1173.75" y="633.90" width="1.9" height="111.7" fill="#FFFFFF"/>
<rect x="1258.85" y="633.90" width="1.9" height="111.7" fill="#FFFFFF"/>
<rect x="1343.85" y="633.90" width="1.9" height="111.7" fill="#FFFFFF"/>
<rect x="1414.45" y="633.90" width="1.9" height="111.7" fill="#FFFFFF"/>
<rect x="1449.75" y="633.90" width="1.9" height="111.7" fill="#FFFFFF"/>
<rect x="1137.80" y="633.90" width="3.6" height="111.7" fill="#FFFFFF"/>
<rect x="1208.20" y="633.90" width="3.6" height="111.7" fill="#FFFFFF"/>
<rect x="1307.70" y="633.90" width="3.6" height="111.7" fill="#FFFFFF"/>
<rect x="1378.30" y="633.90" width="3.6" height="111.7" fill="#FFFFFF"/>
<rect x="1065.0" y="687.95" width="435.0" height="3.6" fill="#FFFFFF"/>
<line x1="1210.0" y1="745.60" x2="1210.0" y2="633.90" stroke="#A3A3A3" stroke-width="3.1" stroke-dasharray="13.9 13.9"/>
<line x1="611.00" y1="649.86" x2="730.30" y2="649.86" stroke="#2E86C1" stroke-width="3.3"/>
<line x1="611.00" y1="643.21" x2="611.00" y2="656.51" stroke="#2E86C1" stroke-width="3.3"/>
<line x1="730.30" y1="643.21" x2="730.30" y2="656.51" stroke="#2E86C1" stroke-width="3.3"/>
<circle cx="670.60" cy="649.86" r="6.3" fill="#2E86C1"/>
<text transform="translate(802.06,656.76) scale(1.0,1.076)" font-size="22.8" fill="#000" stroke="#000" stroke-width="0.3">1.12 [0.90,1.39]</text>
<text transform="translate(462.15,660.26) scale(1.0,1.02)" font-size="28.2" fill="#4D4D4D" stroke="#4D4D4D" stroke-width="0.3" text-anchor="end">DCS (disc)</text>
<line x1="468.0" y1="649.86" x2="476.0" y2="649.86" stroke="#333333" stroke-width="3.2"/>
<line x1="658.50" y1="676.45" x2="730.40" y2="676.45" stroke="#162448" stroke-width="3.3"/>
<line x1="658.50" y1="669.80" x2="658.50" y2="683.10" stroke="#162448" stroke-width="3.3"/>
<line x1="730.40" y1="669.80" x2="730.40" y2="683.10" stroke="#162448" stroke-width="3.3"/>
<circle cx="694.60" cy="676.45" r="6.3" fill="#162448"/>
<text transform="translate(802.06,683.35) scale(1.0,1.076)" font-size="22.8" fill="#000" stroke="#000" stroke-width="0.3">1.22 [1.07,1.39]</text>
<text transform="translate(462.15,686.85) scale(1.0,1.02)" font-size="28.2" fill="#4D4D4D" stroke="#4D4D4D" stroke-width="0.3" text-anchor="end">GoDARTS (disc)</text>
<line x1="468.0" y1="676.45" x2="476.0" y2="676.45" stroke="#333333" stroke-width="3.2"/>
<line x1="599.10" y1="703.05" x2="724.70" y2="703.05" stroke="#E84B61" stroke-width="3.3"/>
<line x1="599.10" y1="696.40" x2="599.10" y2="709.70" stroke="#E84B61" stroke-width="3.3"/>
<line x1="724.70" y1="696.40" x2="724.70" y2="709.70" stroke="#E84B61" stroke-width="3.3"/>
<circle cx="661.90" cy="703.05" r="6.3" fill="#E84B61"/>
<text transform="translate(802.06,709.95) scale(1.0,1.076)" font-size="22.8" fill="#000" stroke="#000" stroke-width="0.3">1.08 [0.86,1.36]</text>
<text transform="translate(462.15,713.45) scale(1.0,1.02)" font-size="28.2" fill="#4D4D4D" stroke="#4D4D4D" stroke-width="0.3" text-anchor="end">ANDIS (disc)</text>
<line x1="468.0" y1="703.05" x2="476.0" y2="703.05" stroke="#333333" stroke-width="3.2"/>
<line x1="643.00" y1="729.64" x2="723.00" y2="729.64" stroke="#F1A702" stroke-width="3.3"/>
<line x1="643.00" y1="722.99" x2="643.00" y2="736.29" stroke="#F1A702" stroke-width="3.3"/>
<line x1="723.00" y1="722.99" x2="723.00" y2="736.29" stroke="#F1A702" stroke-width="3.3"/>
<path d="M683.00 723.04L689.00 729.64L683.00 736.24L677.00 729.64Z" fill="#F1A702"/>
<text transform="translate(802.06,736.54) scale(1.0,1.076)" font-size="22.8" fill="#000" stroke="#000" stroke-width="0.3">1.17 [1.01,1.35]</text>
<text transform="translate(462.15,740.04) scale(1.0,1.02)" font-size="28.2" fill="#4D4D4D" stroke="#4D4D4D" stroke-width="0.3" text-anchor="end">Discovery (m1)</text>
<line x1="468.0" y1="729.64" x2="476.0" y2="729.64" stroke="#333333" stroke-width="3.2"/>
<line x1="1246.00" y1="689.75" x2="1289.40" y2="689.75" stroke="#F1A702" stroke-width="3.3"/>
<line x1="1246.00" y1="666.48" x2="1246.00" y2="713.02" stroke="#F1A702" stroke-width="3.3"/>
<line x1="1289.40" y1="666.48" x2="1289.40" y2="713.02" stroke="#F1A702" stroke-width="3.3"/>
<circle cx="1267.80" cy="689.75" r="6.3" fill="#F1A702"/>
<text transform="translate(1333.10,696.65) scale(1.0,1.076)" font-size="22.8" fill="#000" stroke="#000" stroke-width="0.3">1.26 [1.16,1.38]</text>
<text transform="translate(1050.00,700.15) scale(1.0,1.02)" font-size="28.2" fill="#4D4D4D" stroke="#4D4D4D" stroke-width="0.3" text-anchor="end">MDC</text>
<line x1="1056.8" y1="689.75" x2="1065.0" y2="689.75" stroke="#333333" stroke-width="3.2"/>
<text transform="translate(-1.20,697.50) scale(1.0,1.078)" font-size="37.0" fill="#1A1A1A" stroke="#1A1A1A" stroke-width="0.3">TAG 48:2;0</text>
<rect x="476.0" y="762.90" width="490.0" height="111.7" fill="#EBEBEB"/>
<rect x="478.95" y="762.90" width="1.9" height="111.7" fill="#FFFFFF"/>
<rect x="519.15" y="762.90" width="1.9" height="111.7" fill="#FFFFFF"/>
<rect x="598.85" y="762.90" width="1.9" height="111.7" fill="#FFFFFF"/>
<rect x="694.55" y="762.90" width="1.9" height="111.7" fill="#FFFFFF"/>
<rect x="790.15" y="762.90" width="1.9" height="111.7" fill="#FFFFFF"/>
<rect x="869.95" y="762.90" width="1.9" height="111.7" fill="#FFFFFF"/>
<rect x="909.85" y="762.90" width="1.9" height="111.7" fill="#FFFFFF"/>
<rect x="557.90" y="762.90" width="3.6" height="111.7" fill="#FFFFFF"/>
<rect x="637.70" y="762.90" width="3.6" height="111.7" fill="#FFFFFF"/>
<rect x="749.50" y="762.90" width="3.6" height="111.7" fill="#FFFFFF"/>
<rect x="829.30" y="762.90" width="3.6" height="111.7" fill="#FFFFFF"/>
<rect x="476.0" y="777.06" width="490.0" height="3.6" fill="#FFFFFF"/>
<rect x="476.0" y="803.65" width="490.0" height="3.6" fill="#FFFFFF"/>
<rect x="476.0" y="830.25" width="490.0" height="3.6" fill="#FFFFFF"/>
<rect x="476.0" y="856.84" width="490.0" height="3.6" fill="#FFFFFF"/>
<line x1="639.5" y1="874.60" x2="639.5" y2="762.90" stroke="#A3A3A3" stroke-width="3.1" stroke-dasharray="13.9 13.9"/>
<rect x="1065.0" y="762.90" width="435.0" height="111.7" fill="#EBEBEB"/>
<rect x="1067.95" y="762.90" width="1.9" height="111.7" fill="#FFFFFF"/>
<rect x="1103.15" y="762.90" width="1.9" height="111.7" fill="#FFFFFF"/>
<rect x="1173.75" y="762.90" width="1.9" height="111.7" fill="#FFFFFF"/>
<rect x="1258.85" y="762.90" width="1.9" height="111.7" fill="#FFFFFF"/>
<rect x="1343.85" y="762.90" width="1.9" height="111.7" fill="#FFFFFF"/>
<rect x="1414.45" y="762.90" width="1.9" height="111.7" fill="#FFFFFF"/>
<rect x="1449.75" y="762.90" width="1.9" height="111.7" fill="#FFFFFF"/>
<rect x="1137.80" y="762.90" width="3.6" height="111.7" fill="#FFFFFF"/>
<rect x="1208.20" y="762.90" width="3.6" height="111.7" fill="#FFFFFF"/>
<rect x="1307.70" y="762.90" width="3.6" height="111.7" fill="#FFFFFF"/>
<rect x="1378.30" y="762.90" width="3.6" height="111.7" fill="#FFFFFF"/>
<rect x="1065.0" y="816.95" width="435.0" height="3.6" fill="#FFFFFF"/>
<line x1="1210.0" y1="874.60" x2="1210.0" y2="762.90" stroke="#A3A3A3" stroke-width="3.1" stroke-dasharray="13.9 13.9"/>
<line x1="610.70" y1="778.86" x2="724.10" y2="778.86" stroke="#2E86C1" stroke-width="3.3"/>
<line x1="610.70" y1="772.21" x2="610.70" y2="785.51" stroke="#2E86C1" stroke-width="3.3"/>
<line x1="724.10" y1="772.21" x2="724.10" y2="785.51" stroke="#2E86C1" stroke-width="3.3"/>
<circle cx="667.40" cy="778.86" r="6.3" fill="#2E86C1"/>
<text transform="translate(802.06,785.76) scale(1.0,1.076)" font-size="22.8" fill="#000" stroke="#000" stroke-width="0.3">1.11 [0.90,1.36]</text>
<text transform="translate(462.15,789.26) scale(1.0,1.02)" font-size="28.2" fill="#4D4D4D" stroke="#4D4D4D" stroke-width="0.3" text-anchor="end">DCS (disc)</text>
<line x1="468.0" y1="778.86" x2="476.0" y2="778.86" stroke="#333333" stroke-width="3.2"/>
<line x1="657.20" y1="805.45" x2="728.30" y2="805.45" stroke="#162448" stroke-width="3.3"/>
<line x1="657.20" y1="798.80" x2="657.20" y2="812.10" stroke="#162448" stroke-width="3.3"/>
<line x1="728.30" y1="798.80" x2="728.30" y2="812.10" stroke="#162448" stroke-width="3.3"/>
<circle cx="692.60" cy="805.45" r="6.3" fill="#162448"/>
<text transform="translate(802.06,812.35) scale(1.0,1.076)" font-size="22.8" fill="#000" stroke="#000" stroke-width="0.3">1.21 [1.07,1.38]</text>
<text transform="translate(462.15,815.85) scale(1.0,1.02)" font-size="28.2" fill="#4D4D4D" stroke="#4D4D4D" stroke-width="0.3" text-anchor="end">GoDARTS (disc)</text>
<line x1="468.0" y1="805.45" x2="476.0" y2="805.45" stroke="#333333" stroke-width="3.2"/>
<line x1="605.40" y1="832.05" x2="728.60" y2="832.05" stroke="#E84B61" stroke-width="3.3"/>
<line x1="605.40" y1="825.40" x2="605.40" y2="838.70" stroke="#E84B61" stroke-width="3.3"/>
<line x1="728.60" y1="825.40" x2="728.60" y2="838.70" stroke="#E84B61" stroke-width="3.3"/>
<circle cx="667.00" cy="832.05" r="6.3" fill="#E84B61"/>
<text transform="translate(802.06,838.95) scale(1.0,1.076)" font-size="22.8" fill="#000" stroke="#000" stroke-width="0.3">1.11 [0.88,1.38]</text>
<text transform="translate(462.15,842.45) scale(1.0,1.02)" font-size="28.2" fill="#4D4D4D" stroke="#4D4D4D" stroke-width="0.3" text-anchor="end">ANDIS (disc)</text>
<line x1="468.0" y1="832.05" x2="476.0" y2="832.05" stroke="#333333" stroke-width="3.2"/>
<line x1="643.00" y1="858.64" x2="721.30" y2="858.64" stroke="#F1A702" stroke-width="3.3"/>
<line x1="643.00" y1="851.99" x2="643.00" y2="865.29" stroke="#F1A702" stroke-width="3.3"/>
<line x1="721.30" y1="851.99" x2="721.30" y2="865.29" stroke="#F1A702" stroke-width="3.3"/>
<path d="M681.90 852.04L687.90 858.64L681.90 865.24L675.90 858.64Z" fill="#F1A702"/>
<text transform="translate(802.06,865.54) scale(1.0,1.076)" font-size="22.8" fill="#000" stroke="#000" stroke-width="0.3">1.17 [1.01,1.34]</text>
<text transform="translate(462.15,869.04) scale(1.0,1.02)" font-size="28.2" fill="#4D4D4D" stroke="#4D4D4D" stroke-width="0.3" text-anchor="end">Discovery (m1)</text>
<line x1="468.0" y1="858.64" x2="476.0" y2="858.64" stroke="#333333" stroke-width="3.2"/>
<line x1="1234.50" y1="818.75" x2="1278.60" y2="818.75" stroke="#F1A702" stroke-width="3.3"/>
<line x1="1234.50" y1="795.48" x2="1234.50" y2="842.02" stroke="#F1A702" stroke-width="3.3"/>
<line x1="1278.60" y1="795.48" x2="1278.60" y2="842.02" stroke="#F1A702" stroke-width="3.3"/>
<circle cx="1256.50" cy="818.75" r="6.3" fill="#F1A702"/>
<text transform="translate(1333.10,825.65) scale(1.0,1.076)" font-size="22.8" fill="#000" stroke="#000" stroke-width="0.3">1.21 [1.10,1.32]</text>
<text transform="translate(1050.00,829.15) scale(1.0,1.02)" font-size="28.2" fill="#4D4D4D" stroke="#4D4D4D" stroke-width="0.3" text-anchor="end">MDC</text>
<line x1="1056.8" y1="818.75" x2="1065.0" y2="818.75" stroke="#333333" stroke-width="3.2"/>
<text transform="translate(-1.20,826.50) scale(1.0,1.078)" font-size="37.0" fill="#1A1A1A" stroke="#1A1A1A" stroke-width="0.3">TAG 48:3;0</text>
<rect x="476.0" y="891.90" width="490.0" height="111.7" fill="#EBEBEB"/>
<rect x="478.95" y="891.90" width="1.9" height="111.7" fill="#FFFFFF"/>
<rect x="519.15" y="891.90" width="1.9" height="111.7" fill="#FFFFFF"/>
<rect x="598.85" y="891.90" width="1.9" height="111.7" fill="#FFFFFF"/>
<rect x="694.55" y="891.90" width="1.9" height="111.7" fill="#FFFFFF"/>
<rect x="790.15" y="891.90" width="1.9" height="111.7" fill="#FFFFFF"/>
<rect x="869.95" y="891.90" width="1.9" height="111.7" fill="#FFFFFF"/>
<rect x="909.85" y="891.90" width="1.9" height="111.7" fill="#FFFFFF"/>
<rect x="557.90" y="891.90" width="3.6" height="111.7" fill="#FFFFFF"/>
<rect x="637.70" y="891.90" width="3.6" height="111.7" fill="#FFFFFF"/>
<rect x="749.50" y="891.90" width="3.6" height="111.7" fill="#FFFFFF"/>
<rect x="829.30" y="891.90" width="3.6" height="111.7" fill="#FFFFFF"/>
<rect x="476.0" y="906.06" width="490.0" height="3.6" fill="#FFFFFF"/>
<rect x="476.0" y="932.65" width="490.0" height="3.6" fill="#FFFFFF"/>
<rect x="476.0" y="959.25" width="490.0" height="3.6" fill="#FFFFFF"/>
<rect x="476.0" y="985.84" width="490.0" height="3.6" fill="#FFFFFF"/>
<line x1="639.5" y1="1003.60" x2="639.5" y2="891.90" stroke="#A3A3A3" stroke-width="3.1" stroke-dasharray="13.9 13.9"/>
<rect x="1065.0" y="891.90" width="435.0" height="111.7" fill="#EBEBEB"/>
<rect x="1067.95" y="891.90" width="1.9" height="111.7" fill="#FFFFFF"/>
<rect x="1103.15" y="891.90" width="1.9" height="111.7" fill="#FFFFFF"/>
<rect x="1173.75" y="891.90" width="1.9" height="111.7" fill="#FFFFFF"/>
<rect x="1258.85" y="891.90" width="1.9" height="111.7" fill="#FFFFFF"/>
<rect x="1343.85" y="891.90" width="1.9" height="111.7" fill="#FFFFFF"/>
<rect x="1414.45" y="891.90" width="1.9" height="111.7" fill="#FFFFFF"/>
<rect x="1449.75" y="891.90" width="1.9" height="111.7" fill="#FFFFFF"/>
<rect x="1137.80" y="891.90" width="3.6" height="111.7" fill="#FFFFFF"/>
<rect x="1208.20" y="891.90" width="3.6" height="111.7" fill="#FFFFFF"/>
<rect x="1307.70" y="891.90" width="3.6" height="111.7" fill="#FFFFFF"/>
<rect x="1378.30" y="891.90" width="3.6" height="111.7" fill="#FFFFFF"/>
<rect x="1065.0" y="945.95" width="435.0" height="3.6" fill="#FFFFFF"/>
<line x1="1210.0" y1="1003.60" x2="1210.0" y2="891.90" stroke="#A3A3A3" stroke-width="3.1" stroke-dasharray="13.9 13.9"/>
<line x1="630.80" y1="907.86" x2="744.70" y2="907.86" stroke="#2E86C1" stroke-width="3.3"/>
<line x1="630.80" y1="901.21" x2="630.80" y2="914.51" stroke="#2E86C1" stroke-width="3.3"/>
<line x1="744.70" y1="901.21" x2="744.70" y2="914.51" stroke="#2E86C1" stroke-width="3.3"/>
<circle cx="687.60" cy="907.86" r="6.3" fill="#2E86C1"/>
<text transform="translate(802.06,914.76) scale(1.0,1.076)" font-size="22.8" fill="#000" stroke="#000" stroke-width="0.3">1.19 [0.97,1.46]</text>
<text transform="translate(462.15,918.26) scale(1.0,1.02)" font-size="28.2" fill="#4D4D4D" stroke="#4D4D4D" stroke-width="0.3" text-anchor="end">DCS (disc)</text>
<line x1="468.0" y1="907.86" x2="476.0" y2="907.86" stroke="#333333" stroke-width="3.2"/>
<line x1="651.80" y1="934.45" x2="722.00" y2="934.45" stroke="#162448" stroke-width="3.3"/>
<line x1="651.80" y1="927.80" x2="651.80" y2="941.10" stroke="#162448" stroke-width="3.3"/>
<line x1="722.00" y1="927.80" x2="722.00" y2="941.10" stroke="#162448" stroke-width="3.3"/>
<circle cx="686.90" cy="934.45" r="6.3" fill="#162448"/>
<text transform="translate(802.06,941.35) scale(1.0,1.076)" font-size="22.8" fill="#000" stroke="#000" stroke-width="0.3">1.19 [1.05,1.35]</text>
<text transform="translate(462.15,944.85) scale(1.0,1.02)" font-size="28.2" fill="#4D4D4D" stroke="#4D4D4D" stroke-width="0.3" text-anchor="end">GoDARTS (disc)</text>
<line x1="468.0" y1="934.45" x2="476.0" y2="934.45" stroke="#333333" stroke-width="3.2"/>
<line x1="596.80" y1="961.05" x2="722.20" y2="961.05" stroke="#E84B61" stroke-width="3.3"/>
<line x1="596.80" y1="954.40" x2="596.80" y2="967.70" stroke="#E84B61" stroke-width="3.3"/>
<line x1="722.20" y1="954.40" x2="722.20" y2="967.70" stroke="#E84B61" stroke-width="3.3"/>
<circle cx="659.70" cy="961.05" r="6.3" fill="#E84B61"/>
<text transform="translate(802.06,967.95) scale(1.0,1.076)" font-size="22.8" fill="#000" stroke="#000" stroke-width="0.3">1.08 [0.86,1.35]</text>
<text transform="translate(462.15,971.45) scale(1.0,1.02)" font-size="28.2" fill="#4D4D4D" stroke="#4D4D4D" stroke-width="0.3" text-anchor="end">ANDIS (disc)</text>
<line x1="468.0" y1="961.05" x2="476.0" y2="961.05" stroke="#333333" stroke-width="3.2"/>
<line x1="643.20" y1="987.64" x2="721.00" y2="987.64" stroke="#F1A702" stroke-width="3.3"/>
<line x1="643.20" y1="980.99" x2="643.20" y2="994.29" stroke="#F1A702" stroke-width="3.3"/>
<line x1="721.00" y1="980.99" x2="721.00" y2="994.29" stroke="#F1A702" stroke-width="3.3"/>
<path d="M681.90 981.04L687.90 987.64L681.90 994.24L675.90 987.64Z" fill="#F1A702"/>
<text transform="translate(802.06,994.54) scale(1.0,1.076)" font-size="22.8" fill="#000" stroke="#000" stroke-width="0.3">1.17 [1.01,1.34]</text>
<text transform="translate(462.15,998.04) scale(1.0,1.02)" font-size="28.2" fill="#4D4D4D" stroke="#4D4D4D" stroke-width="0.3" text-anchor="end">Discovery (m1)</text>
<line x1="468.0" y1="987.64" x2="476.0" y2="987.64" stroke="#333333" stroke-width="3.2"/>
<line x1="1256.80" y1="947.75" x2="1301.80" y2="947.75" stroke="#F1A702" stroke-width="3.3"/>
<line x1="1256.80" y1="924.48" x2="1256.80" y2="971.02" stroke="#F1A702" stroke-width="3.3"/>
<line x1="1301.80" y1="924.48" x2="1301.80" y2="971.02" stroke="#F1A702" stroke-width="3.3"/>
<circle cx="1279.30" cy="947.75" r="6.3" fill="#F1A702"/>
<text transform="translate(1333.10,954.65) scale(1.0,1.076)" font-size="22.8" fill="#000" stroke="#000" stroke-width="0.3">1.33 [1.21,1.45]</text>
<text transform="translate(1050.00,958.15) scale(1.0,1.02)" font-size="28.2" fill="#4D4D4D" stroke="#4D4D4D" stroke-width="0.3" text-anchor="end">MDC</text>
<line x1="1056.8" y1="947.75" x2="1065.0" y2="947.75" stroke="#333333" stroke-width="3.2"/>
<text transform="translate(-1.20,955.50) scale(1.0,1.078)" font-size="37.0" fill="#1A1A1A" stroke="#1A1A1A" stroke-width="0.3">TAG 51:1;0</text>
<rect x="476.0" y="1020.90" width="490.0" height="111.7" fill="#EBEBEB"/>
<rect x="478.95" y="1020.90" width="1.9" height="111.7" fill="#FFFFFF"/>
<rect x="519.15" y="1020.90" width="1.9" height="111.7" fill="#FFFFFF"/>
<rect x="598.85" y="1020.90" width="1.9" height="111.7" fill="#FFFFFF"/>
<rect x="694.55" y="1020.90" width="1.9" height="111.7" fill="#FFFFFF"/>
<rect x="790.15" y="1020.90" width="1.9" height="111.7" fill="#FFFFFF"/>
<rect x="869.95" y="1020.90" width="1.9" height="111.7" fill="#FFFFFF"/>
<rect x="909.85" y="1020.90" width="1.9" height="111.7" fill="#FFFFFF"/>
<rect x="557.90" y="1020.90" width="3.6" height="111.7" fill="#FFFFFF"/>
<rect x="637.70" y="1020.90" width="3.6" height="111.7" fill="#FFFFFF"/>
<rect x="749.50" y="1020.90" width="3.6" height="111.7" fill="#FFFFFF"/>
<rect x="829.30" y="1020.90" width="3.6" height="111.7" fill="#FFFFFF"/>
<rect x="476.0" y="1035.06" width="490.0" height="3.6" fill="#FFFFFF"/>
<rect x="476.0" y="1061.65" width="490.0" height="3.6" fill="#FFFFFF"/>
<rect x="476.0" y="1088.25" width="490.0" height="3.6" fill="#FFFFFF"/>
<rect x="476.0" y="1114.84" width="490.0" height="3.6" fill="#FFFFFF"/>
<line x1="639.5" y1="1132.60" x2="639.5" y2="1020.90" stroke="#A3A3A3" stroke-width="3.1" stroke-dasharray="13.9 13.9"/>
<rect x="1065.0" y="1020.90" width="435.0" height="111.7" fill="#EBEBEB"/>
<rect x="1067.95" y="1020.90" width="1.9" height="111.7" fill="#FFFFFF"/>
<rect x="1103.15" y="1020.90" width="1.9" height="111.7" fill="#FFFFFF"/>
<rect x="1173.75" y="1020.90" width="1.9" height="111.7" fill="#FFFFFF"/>
<rect x="1258.85" y="1020.90" width="1.9" height="111.7" fill="#FFFFFF"/>
<rect x="1343.85" y="1020.90" width="1.9" height="111.7" fill="#FFFFFF"/>
<rect x="1414.45" y="1020.90" width="1.9" height="111.7" fill="#FFFFFF"/>
<rect x="1449.75" y="1020.90" width="1.9" height="111.7" fill="#FFFFFF"/>
<rect x="1137.80" y="1020.90" width="3.6" height="111.7" fill="#FFFFFF"/>
<rect x="1208.20" y="1020.90" width="3.6" height="111.7" fill="#FFFFFF"/>
<rect x="1307.70" y="1020.90" width="3.6" height="111.7" fill="#FFFFFF"/>
<rect x="1378.30" y="1020.90" width="3.6" height="111.7" fill="#FFFFFF"/>
<rect x="1065.0" y="1074.95" width="435.0" height="3.6" fill="#FFFFFF"/>
<line x1="1210.0" y1="1132.60" x2="1210.0" y2="1020.90" stroke="#A3A3A3" stroke-width="3.1" stroke-dasharray="13.9 13.9"/>
<line x1="626.00" y1="1036.86" x2="739.70" y2="1036.86" stroke="#2E86C1" stroke-width="3.3"/>
<line x1="626.00" y1="1030.21" x2="626.00" y2="1043.51" stroke="#2E86C1" stroke-width="3.3"/>
<line x1="739.70" y1="1030.21" x2="739.70" y2="1043.51" stroke="#2E86C1" stroke-width="3.3"/>
<circle cx="682.90" cy="1036.86" r="6.3" fill="#2E86C1"/>
<text transform="translate(802.06,1043.76) scale(1.0,1.076)" font-size="22.8" fill="#000" stroke="#000" stroke-width="0.3">1.17 [0.95,1.44]</text>
<text transform="translate(462.15,1047.26) scale(1.0,1.02)" font-size="28.2" fill="#4D4D4D" stroke="#4D4D4D" stroke-width="0.3" text-anchor="end">DCS (disc)</text>
<line x1="468.0" y1="1036.86" x2="476.0" y2="1036.86" stroke="#333333" stroke-width="3.2"/>
<line x1="652.90" y1="1063.45" x2="723.20" y2="1063.45" stroke="#162448" stroke-width="3.3"/>
<line x1="652.90" y1="1056.80" x2="652.90" y2="1070.10" stroke="#162448" stroke-width="3.3"/>
<line x1="723.20" y1="1056.80" x2="723.20" y2="1070.10" stroke="#162448" stroke-width="3.3"/>
<circle cx="688.00" cy="1063.45" r="6.3" fill="#162448"/>
<text transform="translate(802.06,1070.35) scale(1.0,1.076)" font-size="22.8" fill="#000" stroke="#000" stroke-width="0.3">1.19 [1.05,1.35]</text>
<text transform="translate(462.15,1073.85) scale(1.0,1.02)" font-size="28.2" fill="#4D4D4D" stroke="#4D4D4D" stroke-width="0.3" text-anchor="end">GoDARTS (disc)</text>
<line x1="468.0" y1="1063.45" x2="476.0" y2="1063.45" stroke="#333333" stroke-width="3.2"/>
<line x1="595.90" y1="1090.05" x2="722.50" y2="1090.05" stroke="#E84B61" stroke-width="3.3"/>
<line x1="595.90" y1="1083.40" x2="595.90" y2="1096.70" stroke="#E84B61" stroke-width="3.3"/>
<line x1="722.50" y1="1083.40" x2="722.50" y2="1096.70" stroke="#E84B61" stroke-width="3.3"/>
<circle cx="659.20" cy="1090.05" r="6.3" fill="#E84B61"/>
<text transform="translate(802.06,1096.95) scale(1.0,1.076)" font-size="22.8" fill="#000" stroke="#000" stroke-width="0.3">1.07 [0.85,1.35]</text>
<text transform="translate(462.15,1100.45) scale(1.0,1.02)" font-size="28.2" fill="#4D4D4D" stroke="#4D4D4D" stroke-width="0.3" text-anchor="end">ANDIS (disc)</text>
<line x1="468.0" y1="1090.05" x2="476.0" y2="1090.05" stroke="#333333" stroke-width="3.2"/>
<line x1="642.40" y1="1116.64" x2="720.70" y2="1116.64" stroke="#F1A702" stroke-width="3.3"/>
<line x1="642.40" y1="1109.99" x2="642.40" y2="1123.29" stroke="#F1A702" stroke-width="3.3"/>
<line x1="720.70" y1="1109.99" x2="720.70" y2="1123.29" stroke="#F1A702" stroke-width="3.3"/>
<path d="M681.60 1110.04L687.60 1116.64L681.60 1123.24L675.60 1116.64Z" fill="#F1A702"/>
<text transform="translate(802.06,1123.54) scale(1.0,1.076)" font-size="22.8" fill="#000" stroke="#000" stroke-width="0.3">1.17 [1.01,1.34]</text>
<text transform="translate(462.15,1127.04) scale(1.0,1.02)" font-size="28.2" fill="#4D4D4D" stroke="#4D4D4D" stroke-width="0.3" text-anchor="end">Discovery (m1)</text>
<line x1="468.0" y1="1116.64" x2="476.0" y2="1116.64" stroke="#333333" stroke-width="3.2"/>
<line x1="1248.50" y1="1076.75" x2="1293.90" y2="1076.75" stroke="#F1A702" stroke-width="3.3"/>
<line x1="1248.50" y1="1053.48" x2="1248.50" y2="1100.02" stroke="#F1A702" stroke-width="3.3"/>
<line x1="1293.90" y1="1053.48" x2="1293.90" y2="1100.02" stroke="#F1A702" stroke-width="3.3"/>
<circle cx="1271.30" cy="1076.75" r="6.3" fill="#F1A702"/>
<text transform="translate(1333.10,1083.65) scale(1.0,1.076)" font-size="22.8" fill="#000" stroke="#000" stroke-width="0.3">1.28 [1.17,1.41]</text>
<text transform="translate(1050.00,1087.15) scale(1.0,1.02)" font-size="28.2" fill="#4D4D4D" stroke="#4D4D4D" stroke-width="0.3" text-anchor="end">MDC</text>
<line x1="1056.8" y1="1076.75" x2="1065.0" y2="1076.75" stroke="#333333" stroke-width="3.2"/>
<text transform="translate(-1.20,1084.50) scale(1.0,1.078)" font-size="37.0" fill="#1A1A1A" stroke="#1A1A1A" stroke-width="0.3">TAG 49:1;0</text>
<rect x="476.0" y="1149.90" width="490.0" height="111.7" fill="#EBEBEB"/>
<rect x="478.95" y="1149.90" width="1.9" height="111.7" fill="#FFFFFF"/>
<rect x="519.15" y="1149.90" width="1.9" height="111.7" fill="#FFFFFF"/>
<rect x="598.85" y="1149.90" width="1.9" height="111.7" fill="#FFFFFF"/>
<rect x="694.55" y="1149.90" width="1.9" height="111.7" fill="#FFFFFF"/>
<rect x="790.15" y="1149.90" width="1.9" height="111.7" fill="#FFFFFF"/>
<rect x="869.95" y="1149.90" width="1.9" height="111.7" fill="#FFFFFF"/>
<rect x="909.85" y="1149.90" width="1.9" height="111.7" fill="#FFFFFF"/>
<rect x="557.90" y="1149.90" width="3.6" height="111.7" fill="#FFFFFF"/>
<rect x="637.70" y="1149.90" width="3.6" height="111.7" fill="#FFFFFF"/>
<rect x="749.50" y="1149.90" width="3.6" height="111.7" fill="#FFFFFF"/>
<rect x="829.30" y="1149.90" width="3.6" height="111.7" fill="#FFFFFF"/>
<rect x="476.0" y="1164.06" width="490.0" height="3.6" fill="#FFFFFF"/>
<rect x="476.0" y="1190.65" width="490.0" height="3.6" fill="#FFFFFF"/>
<rect x="476.0" y="1217.25" width="490.0" height="3.6" fill="#FFFFFF"/>
<rect x="476.0" y="1243.84" width="490.0" height="3.6" fill="#FFFFFF"/>
<line x1="639.5" y1="1261.60" x2="639.5" y2="1149.90" stroke="#A3A3A3" stroke-width="3.1" stroke-dasharray="13.9 13.9"/>
<rect x="1065.0" y="1149.90" width="435.0" height="111.7" fill="#EBEBEB"/>
<rect x="1067.95" y="1149.90" width="1.9" height="111.7" fill="#FFFFFF"/>
<rect x="1103.15" y="1149.90" width="1.9" height="111.7" fill="#FFFFFF"/>
<rect x="1173.75" y="1149.90" width="1.9" height="111.7" fill="#FFFFFF"/>
<rect x="1258.85" y="1149.90" width="1.9" height="111.7" fill="#FFFFFF"/>
<rect x="1343.85" y="1149.90" width="1.9" height="111.7" fill="#FFFFFF"/>
<rect x="1414.45" y="1149.90" width="1.9" height="111.7" fill="#FFFFFF"/>
<rect x="1449.75" y="1149.90" width="1.9" height="111.7" fill="#FFFFFF"/>
<rect x="1137.80" y="1149.90" width="3.6" height="111.7" fill="#FFFFFF"/>
<rect x="1208.20" y="1149.90" width="3.6" height="111.7" fill="#FFFFFF"/>
<rect x="1307.70" y="1149.90" width="3.6" height="111.7" fill="#FFFFFF"/>
<rect x="1378.30" y="1149.90" width="3.6" height="111.7" fill="#FFFFFF"/>
<rect x="1065.0" y="1203.95" width="435.0" height="3.6" fill="#FFFFFF"/>
<line x1="1210.0" y1="1261.60" x2="1210.0" y2="1149.90" stroke="#A3A3A3" stroke-width="3.1" stroke-dasharray="13.9 13.9"/>
<line x1="500.10" y1="1165.86" x2="619.30" y2="1165.86" stroke="#2E86C1" stroke-width="3.3"/>
<line x1="500.10" y1="1159.21" x2="500.10" y2="1172.51" stroke="#2E86C1" stroke-width="3.3"/>
<line x1="619.30" y1="1159.21" x2="619.30" y2="1172.51" stroke="#2E86C1" stroke-width="3.3"/>
<circle cx="559.70" cy="1165.86" r="6.3" fill="#2E86C1"/>
<text transform="translate(802.06,1172.76) scale(1.0,1.076)" font-size="22.8" fill="#000" stroke="#000" stroke-width="0.3">0.75 [0.60,0.93]</text>
<text transform="translate(462.15,1176.26) scale(1.0,1.02)" font-size="28.2" fill="#4D4D4D" stroke="#4D4D4D" stroke-width="0.3" text-anchor="end">DCS (disc)</text>
<line x1="468.0" y1="1165.86" x2="476.0" y2="1165.86" stroke="#333333" stroke-width="3.2"/>
<line x1="568.30" y1="1192.45" x2="643.10" y2="1192.45" stroke="#162448" stroke-width="3.3"/>
<line x1="568.30" y1="1185.80" x2="568.30" y2="1199.10" stroke="#162448" stroke-width="3.3"/>
<line x1="643.10" y1="1185.80" x2="643.10" y2="1199.10" stroke="#162448" stroke-width="3.3"/>
<circle cx="605.70" cy="1192.45" r="6.3" fill="#162448"/>
<text transform="translate(802.06,1199.35) scale(1.0,1.076)" font-size="22.8" fill="#000" stroke="#000" stroke-width="0.3">0.89 [0.77,1.01]</text>
<text transform="translate(462.15,1202.85) scale(1.0,1.02)" font-size="28.2" fill="#4D4D4D" stroke="#4D4D4D" stroke-width="0.3" text-anchor="end">GoDARTS (disc)</text>
<line x1="468.0" y1="1192.45" x2="476.0" y2="1192.45" stroke="#333333" stroke-width="3.2"/>
<line x1="538.40" y1="1219.05" x2="671.00" y2="1219.05" stroke="#E84B61" stroke-width="3.3"/>
<line x1="538.40" y1="1212.40" x2="538.40" y2="1225.70" stroke="#E84B61" stroke-width="3.3"/>
<line x1="671.00" y1="1212.40" x2="671.00" y2="1225.70" stroke="#E84B61" stroke-width="3.3"/>
<circle cx="604.70" cy="1219.05" r="6.3" fill="#E84B61"/>
<text transform="translate(802.06,1225.95) scale(1.0,1.076)" font-size="22.8" fill="#000" stroke="#000" stroke-width="0.3">0.88 [0.69,1.12]</text>
<text transform="translate(462.15,1229.45) scale(1.0,1.02)" font-size="28.2" fill="#4D4D4D" stroke="#4D4D4D" stroke-width="0.3" text-anchor="end">ANDIS (disc)</text>
<line x1="468.0" y1="1219.05" x2="476.0" y2="1219.05" stroke="#333333" stroke-width="3.2"/>
<line x1="554.00" y1="1245.64" x2="636.40" y2="1245.64" stroke="#F1A702" stroke-width="3.3"/>
<line x1="554.00" y1="1238.99" x2="554.00" y2="1252.29" stroke="#F1A702" stroke-width="3.3"/>
<line x1="636.40" y1="1238.99" x2="636.40" y2="1252.29" stroke="#F1A702" stroke-width="3.3"/>
<path d="M595.20 1239.04L601.20 1245.64L595.20 1252.24L589.20 1245.64Z" fill="#F1A702"/>
<text transform="translate(802.06,1252.54) scale(1.0,1.076)" font-size="22.8" fill="#000" stroke="#000" stroke-width="0.3">0.85 [0.73,0.99]</text>
<text transform="translate(462.15,1256.04) scale(1.0,1.02)" font-size="28.2" fill="#4D4D4D" stroke="#4D4D4D" stroke-width="0.3" text-anchor="end">Discovery (m1)</text>
<line x1="468.0" y1="1245.64" x2="476.0" y2="1245.64" stroke="#333333" stroke-width="3.2"/>
<line x1="1225.20" y1="1205.75" x2="1267.80" y2="1205.75" stroke="#F1A702" stroke-width="3.3"/>
<line x1="1225.20" y1="1182.48" x2="1225.20" y2="1229.02" stroke="#F1A702" stroke-width="3.3"/>
<line x1="1267.80" y1="1182.48" x2="1267.80" y2="1229.02" stroke="#F1A702" stroke-width="3.3"/>
<circle cx="1246.50" cy="1205.75" r="6.3" fill="#F1A702"/>
<text transform="translate(1333.10,1212.65) scale(1.0,1.076)" font-size="22.8" fill="#000" stroke="#000" stroke-width="0.3">1.16 [1.06,1.27]</text>
<text transform="translate(1050.00,1216.15) scale(1.0,1.02)" font-size="28.2" fill="#4D4D4D" stroke="#4D4D4D" stroke-width="0.3" text-anchor="end">MDC</text>
<line x1="1056.8" y1="1205.75" x2="1065.0" y2="1205.75" stroke="#333333" stroke-width="3.2"/>
<text transform="translate(-1.10,1213.50) scale(1.0,1.078)" font-size="37.5" fill="#1A1A1A" stroke="#1A1A1A" stroke-width="0.3">SM 42:2;2</text>
<line x1="550.9" y1="1261.60" x2="550.9" y2="1269.8" stroke="#333333" stroke-width="3.2"/>
<text transform="translate(550.90,1297.20) scale(1.0,1.02)" font-size="28.2" fill="#4D4D4D" stroke="#4D4D4D" stroke-width="0.3" text-anchor="middle">0.75</text>
<line x1="621.8" y1="1261.60" x2="621.8" y2="1269.8" stroke="#333333" stroke-width="3.2"/>
<text transform="translate(621.80,1297.20) scale(1.0,1.02)" font-size="28.2" fill="#4D4D4D" stroke="#4D4D4D" stroke-width="0.3" text-anchor="middle">1.00</text>
<line x1="720.9" y1="1261.60" x2="720.9" y2="1269.8" stroke="#333333" stroke-width="3.2"/>
<text transform="translate(720.90,1297.20) scale(1.0,1.02)" font-size="28.2" fill="#4D4D4D" stroke="#4D4D4D" stroke-width="0.3" text-anchor="middle">1.50</text>
<line x1="791.2" y1="1261.60" x2="791.2" y2="1269.8" stroke="#333333" stroke-width="3.2"/>
<text transform="translate(791.20,1297.20) scale(1.0,1.02)" font-size="28.2" fill="#4D4D4D" stroke="#4D4D4D" stroke-width="0.3" text-anchor="middle">2.00</text>
<text transform="translate(694.10,1336.50) scale(1.0,1.04)" font-size="34.4" fill="#000" stroke="#000" stroke-width="0.3" text-anchor="middle">Hazard ratio</text>
<line x1="1139.4" y1="1261.60" x2="1139.4" y2="1269.8" stroke="#333333" stroke-width="3.2"/>
<text transform="translate(1139.40,1297.20) scale(1.0,1.02)" font-size="28.2" fill="#4D4D4D" stroke="#4D4D4D" stroke-width="0.3" text-anchor="middle">0.75</text>
<line x1="1210.0" y1="1261.60" x2="1210.0" y2="1269.8" stroke="#333333" stroke-width="3.2"/>
<text transform="translate(1210.00,1297.20) scale(1.0,1.02)" font-size="28.2" fill="#4D4D4D" stroke="#4D4D4D" stroke-width="0.3" text-anchor="middle">1.00</text>
<line x1="1309.5" y1="1261.60" x2="1309.5" y2="1269.8" stroke="#333333" stroke-width="3.2"/>
<text transform="translate(1309.50,1297.20) scale(1.0,1.02)" font-size="28.2" fill="#4D4D4D" stroke="#4D4D4D" stroke-width="0.3" text-anchor="middle">1.50</text>
<line x1="1380.1" y1="1261.60" x2="1380.1" y2="1269.8" stroke="#333333" stroke-width="3.2"/>
<text transform="translate(1380.10,1297.20) scale(1.0,1.02)" font-size="28.2" fill="#4D4D4D" stroke="#4D4D4D" stroke-width="0.3" text-anchor="middle">2.00</text>
<text transform="translate(1283.00,1336.50) scale(1.0,1.04)" font-size="34.4" fill="#000" stroke="#000" stroke-width="0.3" text-anchor="middle">Hazard ratio</text>
<text transform="translate(253.70,40.40) scale(0.935,1.0)" font-size="56" fill="#1A1A1A" stroke="#1A1A1A" stroke-width="0.3">a</text>
<text transform="translate(985.80,40.20)" font-size="56" fill="#1A1A1A" stroke="#1A1A1A" stroke-width="0.3">b</text>
<text transform="translate(1283.40,61.90) scale(1.0,1.03)" font-size="44.3" fill="#1A1A1A" stroke="#1A1A1A" stroke-width="0.3" text-anchor="middle">Incident diabetes</text>
<text transform="translate(1282.70,102.80) scale(1.0,1.045)" font-size="33.9" fill="#1A1A1A" stroke="#1A1A1A" stroke-width="0.3" text-anchor="middle" font-style="italic">(Cox)</text>
</svg>
</div></body></html>
